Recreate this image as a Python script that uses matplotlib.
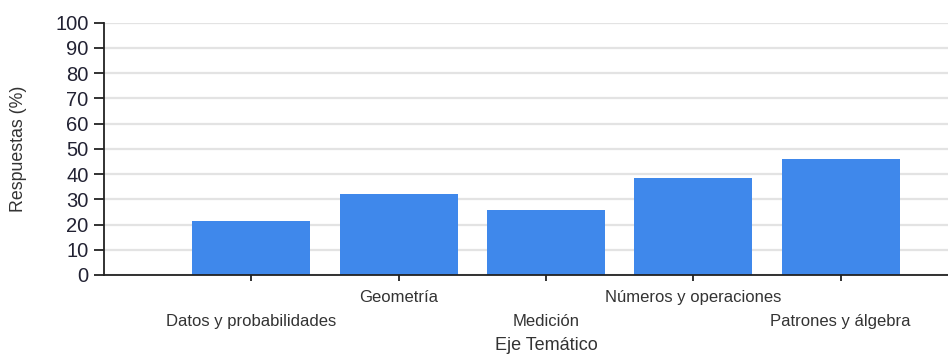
import matplotlib.pyplot as plt
import numpy as np

# data
categories = ["Datos y probabilidades", "Geometría", "Medición",
              "Números y operaciones", "Patrones y álgebra"]
respuestas = [21.5, 32.1, 25.8, 38.3, 45.9]
y_ticks = list(range(0, 101, 10))

plt.rcParams["font.family"] = ["Liberation Sans", "DejaVu Sans"]

fig = plt.figure(figsize=(9.48, 3.54), dpi=100)
# chart is cropped on the right, so the axes run past the figure edge
ax = fig.add_axes([0.1097, 0.2232, 0.9325, 0.7127])

x = np.arange(len(categories))
ax.bar(x, respuestas, width=0.8, color="#3F88EB", zorder=2)

ax.set_xlim(-1, 5)
ax.set_ylim(0, 100)
ax.set_yticks(y_ticks)
ax.yaxis.grid(True, color="#e3e3e3", linewidth=1.6, zorder=0)
ax.set_axisbelow(True)

for side in ["top", "right"]:
    ax.spines[side].set_visible(False)
for side in ["left", "bottom"]:
    ax.spines[side].set_color("#222222")
    ax.spines[side].set_linewidth(1.3)

# staggered labels: even ones low (major), odd ones high (minor)
ax.set_xticks(x[0::2])
ax.set_xticklabels(categories[0::2])
ax.set_xticks(x[1::2], minor=True)
ax.set_xticklabels(categories[1::2], minor=True)
ax.tick_params(axis="x", which="major", length=4, width=1.3, color="#222222",
               pad=24, labelsize=12, labelcolor="#333333")
ax.tick_params(axis="x", which="minor", length=4, width=1.3, color="#222222",
               pad=7, labelsize=12, labelcolor="#333333")
ax.tick_params(axis="y", length=7, width=1.3, color="#222222",
               labelsize=14.5, labelcolor="#222233", pad=4)

ax.set_xlabel("Eje Temático", fontsize=13, color="#333333")
ax.xaxis.set_label_coords(0.5, -0.245)
ax.set_ylabel("Respuestas (%)", fontsize=12.8, color="#333333")
ax.yaxis.set_label_coords(-0.087, 0.5)

fig.savefig("out.png", dpi=100)
